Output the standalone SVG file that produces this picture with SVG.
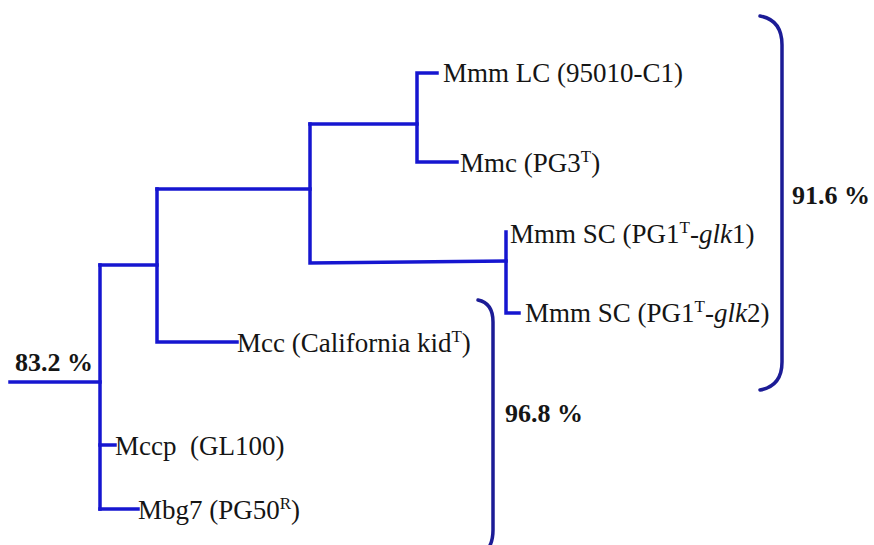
<svg xmlns="http://www.w3.org/2000/svg" width="874" height="545" viewBox="0 0 874 545">
<style>
.br{fill:none;stroke:#1616d0;stroke-width:3.5;stroke-linecap:square;stroke-linejoin:miter}
.bk{fill:none;stroke:#1c1c96;stroke-width:3.5;stroke-linecap:round}
.t{font-family:"Liberation Serif","Times New Roman",serif;font-size:27px;fill:#151515}
.p{font-family:"Liberation Serif","Times New Roman",serif;font-size:26px;font-weight:bold;fill:#151515}
.s{font-size:17px}
</style>
<rect width="874" height="545" fill="#ffffff"/>
<g id="connectors">
<path class="br" d="M10,382 H100"/>
<path class="br" d="M100,265 V509"/>
<path class="br" d="M100,265 H157"/>
<path class="br" d="M100,445 H115"/>
<path class="br" d="M100,509 H138"/>
<path class="br" d="M157,189 V342 H237"/>
<path class="br" d="M157,189 H310"/>
<path class="br" d="M310,124 V263 L506,261"/>
<path class="br" d="M310,124 H417"/>
<path class="br" d="M437,73 H417 V162 H457"/>
<path class="br" d="M506,232 V313 H519"/>
</g>
<g id="bracket-916">
<path class="bk" d="M760,16 Q782,20 782,45 L782,362 Q782,386 760,390"/>
<text class="p" x="792" y="204">91.6 %</text>
</g>
<g id="bracket-968">
<path class="bk" d="M478,300 Q493,303 493,322 L493,530 Q493,543 487,550"/>
<text class="p" x="505" y="422">96.8 %</text>
</g>
<g id="root-label">
<text class="p" x="15" y="371">83.2 %</text>
</g>
<g id="node-mmm-lc">
<text class="t" x="443" y="82">Mmm LC (95010-C1)</text>
</g>
<g id="node-mmc">
<text class="t" x="460" y="172">Mmc (PG3<tspan class="s" dy="-10">T</tspan><tspan dy="10">)</tspan></text>
</g>
<g id="node-mmm-sc1">
<text class="t" x="510" y="243">Mmm SC (PG1<tspan class="s" dy="-10">T</tspan><tspan dy="10">-</tspan><tspan font-style="italic">glk</tspan>1)</text>
</g>
<g id="node-mmm-sc2">
<text class="t" x="525" y="322">Mmm SC (PG1<tspan class="s" dy="-10">T</tspan><tspan dy="10">-</tspan><tspan font-style="italic">glk</tspan>2)</text>
</g>
<g id="node-mcc">
<text class="t" x="237" y="352">Mcc (California kid<tspan class="s" dy="-10">T</tspan><tspan dy="10">)</tspan></text>
</g>
<g id="node-mccp">
<text class="t" x="115" y="455" xml:space="preserve">Mccp  (GL100)</text>
</g>
<g id="node-mbg7">
<text class="t" x="138" y="519">Mbg7 (PG50<tspan class="s" dy="-10">R</tspan><tspan dy="10">)</tspan></text>
</g>
</svg>
